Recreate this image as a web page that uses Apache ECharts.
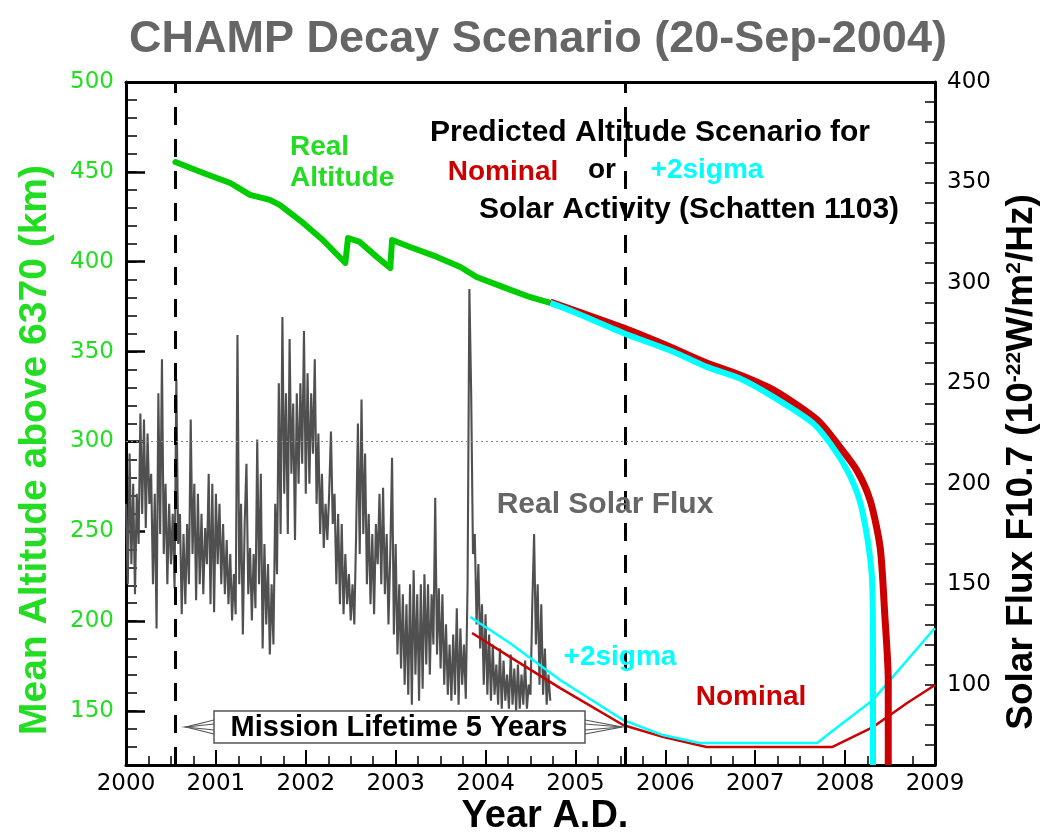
<!DOCTYPE html>
<html><head><meta charset="utf-8">
<script src="https://cdn.jsdelivr.net/npm/echarts@6/dist/echarts.min.js"></script>
<style>html,body{margin:0;padding:0;background:#fff}#c{width:1047px;height:836px}</style>
</head><body><div id="c"></div>
<script>
// ---------- data ----------
const yearMin = 2000, yearMax = 2009;
const missionStart = 2000.55, missionEnd = 2005.55;

const realAltYears = [2000.55,2000.86,2001.16,2001.38,2001.60,2001.71,2001.97,2002.19,2002.44,2002.47,2002.60,2002.79,2002.94,2002.96,2003.16,2003.46,2003.72,2003.90,2004.19,2004.49,2004.72];
const realAltKm    = [455.5,449.4,443.8,437.2,434.4,431.6,421.6,412.1,399.3,413.2,411.0,402.7,396.5,412.1,408.2,402.7,397.1,391.5,386.0,380.4,377.1];

const nomAltYears = [2004.72,2005.53,2006.08,2006.46,2006.83,2007.20,2007.69,2007.94,2008.13,2008.28,2008.39,2008.44,2008.48,2008.48];
const nomAltKm    = [377.6,363.2,352.0,343.7,337.0,328.7,312.0,297.0,284.0,267.0,241.0,204.7,167.0,120];

const sigAltYears = [2004.72,2004.97,2005.53,2006.08,2006.46,2006.83,2007.20,2007.64,2007.83,2008.02,2008.16,2008.25,2008.30,2008.31,2008.31];
const sigAltKm    = [377.1,372.3,360.4,350.1,341.5,335.0,324.8,310.3,299.2,284.2,267.5,245.3,223.0,186.0,120];

const nomFluxYears = [2003.85,2004.27,2004.83,2005.53,2005.97,2006.46,2007.86,2008.31,2008.69,2009.0];
const nomFluxVals  = [125.7,113.8,98.3,79.9,74.0,69.0,69.0,78.9,90.9,99.8];

const sigFluxYears = [2003.83,2004.27,2004.83,2005.53,2005.97,2006.38,2007.69,2007.83,2008.31,2008.98,2009.0];
const sigFluxVals  = [133.7,120.7,102.3,82.4,74.9,71.0,71.0,75.9,92.4,127.2,128.0];

// real solar flux F10.7, sampled every 1/50 year from 2000.0
const fluxStart = 2000.0, fluxStep = 0.02;
const realFlux = [
190,150,215,160,200,145,195,170,235,185,
232,178,225,190,205,150,195,128,245,175,
262,165,200,150,190,160,185,148,252,170,
185,135,175,140,180,150,232,165,200,142,
195,150,185,145,178,160,205,140,200,136,
195,160,190,150,180,145,172,140,165,132,
155,135,274,150,190,125,180,210,145,168,
132,165,138,222,150,205,118,170,130,160,
115,150,120,190,155,250,175,283,195,245,
175,272,205,240,172,245,200,250,210,276,
195,255,200,245,215,262,190,225,175,205,
168,190,172,195,226,180,195,150,185,140,
180,135,165,140,155,132,150,130,175,230,
165,242,175,215,150,185,140,175,135,180,
160,195,150,198,145,175,130,165,213,125,
170,115,150,108,145,100,140,95,150,90,
157,105,145,92,150,98,155,110,150,105,
145,120,193,115,148,108,145,100,130,95,
120,92,125,95,138,90,128,100,120,93,
150,297,245,165,175,130,160,118,140,100,
135,95,125,92,120,95,110,90,118,88,
112,92,105,88,115,90,108,87,110,88,
105,90,112,88,100,95,140,175,120,150,
100,140,95,118,90,105,92
];

const altMajorTicks = [150,200,250,300,350,400,450,500];

// ---------- chart ----------
const pairs = (xs, ys) => xs.map((x, i) => [x, ys[i]]);
const fluxData = realFlux.map((v, i) => [fluxStart + i * fluxStep, v]);

const GREEN = '#22dd22', RED = '#cc0000', CYAN = '#00ffff', GRAY = '#505050';
const BOLD = '"Liberation Sans", Arial, sans-serif';
const NUM = '"DejaVu Sans", sans-serif';
const LBL = 23;

const chart = echarts.init(document.getElementById('c'));
const txt = (text, x, y, size, color, align) => ({
  type: 'text', x: x, y: y, z: 100,
  style: { text: text, font: 'bold ' + size + 'px ' + BOLD, fill: color, textAlign: align || 'center', textVerticalAlign: 'middle' }
});

chart.setOption({
  animation: false,
  backgroundColor: '#fff',
  grid: { left: 126, right: 112, top: 82, bottom: 71, containLabel: false },
  xAxis: [{
    type: 'value', min: yearMin, max: yearMax, interval: 1, position: 'bottom',
    axisLine: { show: true, onZero: false, lineStyle: { color: '#000', width: 3 } },
    axisTick: { show: true, inside: true, length: 15, lineStyle: { color: '#000', width: 2 } },
    minorTick: { show: true, splitNumber: 4, length: 9, lineStyle: { color: '#000', width: 1.5 } },
    splitLine: { show: false },
    axisLabel: { color: '#000', fontSize: LBL, fontFamily: NUM, margin: 8, formatter: v => String(v) }
  }, {
    type: 'value', min: yearMin, max: yearMax, position: 'top',
    axisLine: { show: true, onZero: false, lineStyle: { color: '#000', width: 3 } },
    axisTick: { show: false }, axisLabel: { show: false }, splitLine: { show: false }
  }],
  yAxis: [{
    type: 'value', min: 120, max: 500, interval: 10, position: 'left',
    axisLine: { show: true, onZero: false, lineStyle: { color: '#000', width: 3 } },
    axisTick: { show: true, inside: true, length: 11, lineStyle: { color: '#000', width: 1.5 } },
    splitLine: { show: false },
    axisLabel: { color: GREEN, fontSize: LBL, fontFamily: NUM, margin: 12,
      formatter: v => (v % 50 === 0 ? String(v) : '') }
  }, {
    type: 'value', min: 120, max: 500, interval: 10, position: 'left',
    axisLine: { show: false },
    axisTick: { show: true, inside: true, length: 19, customValues: altMajorTicks, lineStyle: { color: '#000', width: 2.5 } },
    axisLabel: { show: false }, splitLine: { show: false }
  }, {
    type: 'value', min: 60, max: 400, interval: 10, position: 'right',
    axisLine: { show: true, onZero: false, lineStyle: { color: '#000', width: 3 } },
    axisTick: { show: true, inside: true, length: 10, lineStyle: { color: '#000', width: 1.5 } },
    splitLine: { show: false },
    axisLabel: { color: '#000', fontSize: LBL, fontFamily: NUM, margin: 12,
      formatter: v => (v % 50 === 0 && v >= 100 ? String(v) : '') }
  }],
  series: [{
    name: 'Real Solar Flux', type: 'line', xAxisIndex: 0, yAxisIndex: 2, data: fluxData,
    showSymbol: false, symbol: 'none', z: 2,
    lineStyle: { color: GRAY, width: 2.1 }
  }, {
    name: 'Nominal flux', type: 'line', xAxisIndex: 0, yAxisIndex: 2, data: pairs(nomFluxYears, nomFluxVals),
    showSymbol: false, symbol: 'none', z: 3, lineStyle: { color: RED, width: 2.5 }
  }, {
    name: '+2sigma flux', type: 'line', xAxisIndex: 0, yAxisIndex: 2, data: pairs(sigFluxYears, sigFluxVals),
    showSymbol: false, symbol: 'none', z: 4, lineStyle: { color: CYAN, width: 2.5 }
  }, {
    name: 'Real Altitude', type: 'line', xAxisIndex: 0, yAxisIndex: 0, data: pairs(realAltYears, realAltKm),
    showSymbol: false, symbol: 'none', z: 5, lineStyle: { color: '#00cc00', width: 6, cap: 'round', join: 'round' },
    markLine: {
      silent: true, symbol: ['none', 'none'], label: { show: false },
      data: [
        { xAxis: missionStart, lineStyle: { color: '#000', width: 3, type: [18, 14] } },
        { xAxis: missionEnd, lineStyle: { color: '#000', width: 3, type: [18, 14] } },
        { yAxis: 300, lineStyle: { color: '#888', width: 1, type: [2, 3] } }
      ]
    }
  }, {
    name: 'Nominal altitude', type: 'line', xAxisIndex: 0, yAxisIndex: 0, data: pairs(nomAltYears, nomAltKm),
    showSymbol: false, symbol: 'none', z: 6, smooth: 0.25,
    lineStyle: { color: RED, width: 7, join: 'round' }
  }, {
    name: '+2sigma altitude', type: 'line', xAxisIndex: 0, yAxisIndex: 0, data: pairs(sigAltYears, sigAltKm),
    showSymbol: false, symbol: 'none', z: 7, smooth: 0.25,
    lineStyle: { color: CYAN, width: 6, join: 'round' }
  }],
  graphic: [
    txt('CHAMP Decay Scenario (20-Sep-2004)', 538, 40, 45, '#666'),
    Object.assign(txt('Mean Altitude above 6370 (km)', 35, 450, 39, GREEN), { rotation: Math.PI / 2 }),
    { type: 'text', x: 1022, y: 462, z: 100, rotation: Math.PI / 2,
      style: { text: 'Solar Flux F10.7 (10{sup|-22}W/m{sup|2}/Hz)', font: 'bold 37px ' + BOLD, fill: '#000',
        textAlign: 'center', textVerticalAlign: 'middle',
        rich: { sup: { font: 'bold 21px ' + BOLD, fill: '#000', verticalAlign: 'top', lineHeight: 37 } } } },
    txt('Year A.D.', 545, 817, 38, '#000'),
    txt('Real', 290, 147, 28, GREEN, 'left'),
    txt('Altitude', 290, 178, 28, GREEN, 'left'),
    txt('Predicted Altitude Scenario for', 650, 133, 30, '#000'),
    txt('Nominal', 503, 172, 28, RED),
    txt('or', 602, 170, 28, '#000'),
    txt('+2sigma', 707, 170, 28, CYAN),
    txt('Solar Activity (Schatten 1103)', 689, 210, 30, '#000'),
    txt('Real Solar Flux', 605, 505, 30, '#666'),
    txt('+2sigma', 620, 657, 28, CYAN),
    txt('Nominal', 751, 697, 28, RED),
    { type: 'rect', z: 90, shape: { x: 214, y: 711, width: 371, height: 32 },
      style: { fill: '#fff', stroke: '#555', lineWidth: 1.5 } },
    txt('Mission Lifetime 5 Years', 399, 728, 29, '#000'),
    { type: 'polyline', z: 90, shape: { points: [[214, 720], [186, 727], [214, 734]] }, style: { stroke: '#555', lineWidth: 1.2, fill: null } },
    { type: 'polyline', z: 90, shape: { points: [[214, 724], [186, 727], [214, 730]] }, style: { stroke: '#555', lineWidth: 1.2, fill: null } },
    { type: 'polyline', z: 90, shape: { points: [[585, 720], [622, 727], [585, 734]] }, style: { stroke: '#555', lineWidth: 1.2, fill: null } },
    { type: 'polyline', z: 90, shape: { points: [[585, 724], [622, 727], [585, 730]] }, style: { stroke: '#555', lineWidth: 1.2, fill: null } }
  ]
});
</script>
</body></html>
